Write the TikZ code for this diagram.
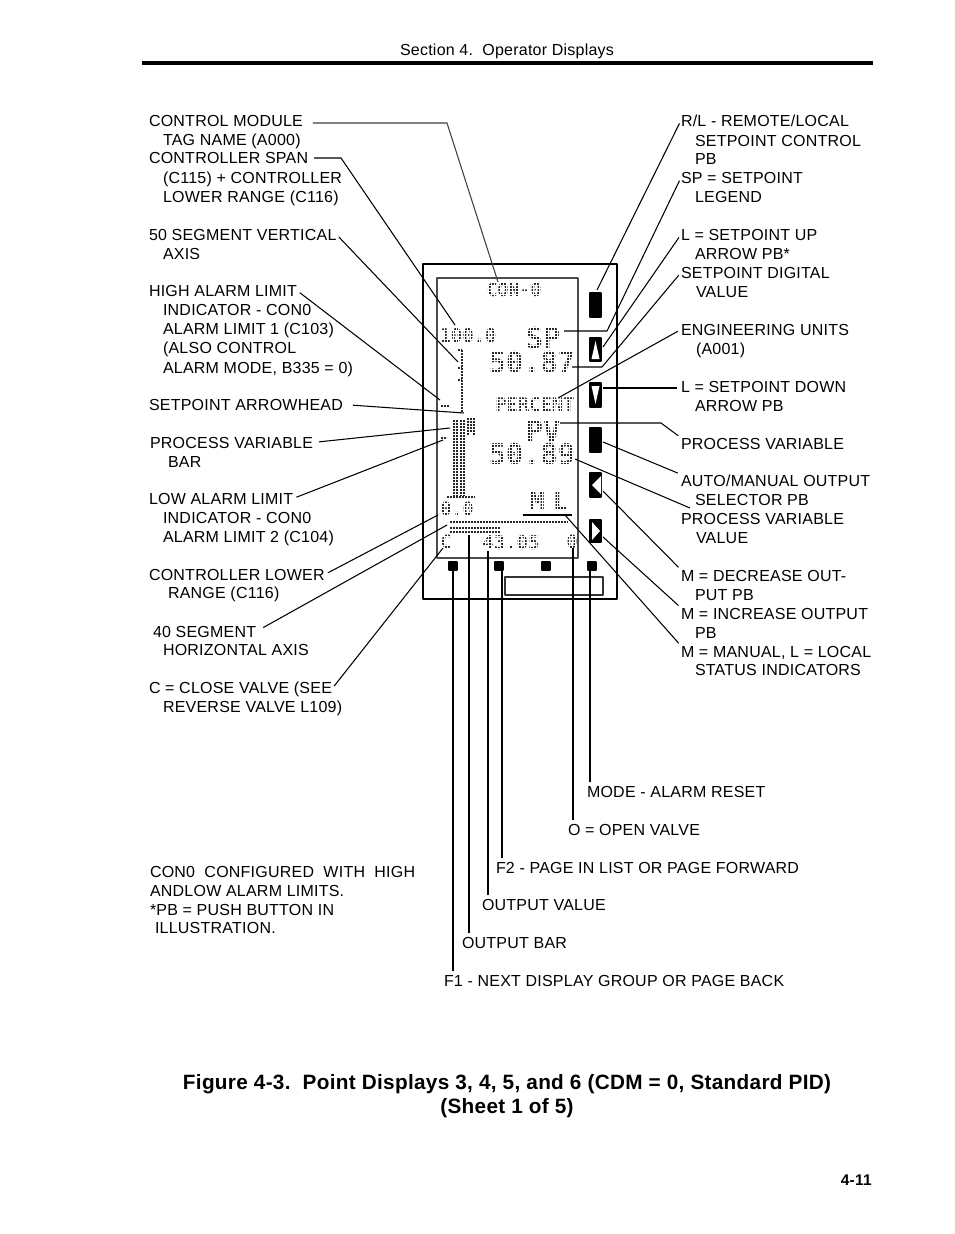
\documentclass[tikz,border=0pt]{standalone}
\usepackage{fontspec}
\setmainfont[LetterSpace=1.5]{Liberation Sans}
\newfontfamily\lcdfont{DejaVu Sans Mono}
\tikzset{
	lbl/.style={anchor=base west, inner sep=0pt, outer sep=0pt, font=\fontsize{9.1}{11}\selectfont},
	leader/.style={line width=0.6pt, black, shorten <=2pt},
	lcd/.style={inner sep=0pt, outer sep=0pt, text=black!85},
	dotrow/.style={line width=0.045cm, dash pattern=on 0.035cm off 0.025cm, black!85},
	pbtn/.style={fill=black, draw=black, line width=0.6pt},
}
\begin{document}
\begin{tikzpicture}[x=0.02cm, y=-0.02cm, line join=round]
				\useasboundingbox (0,0) rectangle (954,1234);
				\fill[white] (0,0) rectangle (954,1234);
				% page head and foot
				\node[anchor=base, inner sep=0pt, font=\fontsize{9.1}{10}\selectfont] (head) at (507,55) {Section 4.\ \ Operator Displays};
				\coordinate (ruleL) at (142,63);
				\coordinate (ruleR) at (873,63);
				\draw[line width=1.9pt] (ruleL) -- (ruleR);
				\node[anchor=base, inner sep=0pt, font=\bfseries\fontsize{11.8}{14}\selectfont] (capA) at (507,1089) {Figure 4-3.\ \ Point Displays 3, 4, 5, and 6 (CDM = 0, Standard PID)};
				\node[anchor=base, inner sep=0pt, font=\bfseries\fontsize{11.8}{14}\selectfont] (capB) at (507,1113) {(Sheet 1 of 5)};
				\node[anchor=base east, inner sep=0pt, font=\bfseries\fontsize{8.8}{10}\selectfont] (folio) at (872,1185) {4-11};
				% instrument faceplate
				\draw[line width=0.9pt] (423,264) rectangle (617,599);
				\draw[line width=0.9pt, black!70] (437,278) rectangle (578,558);
				\draw[line width=0.9pt, black!80] (505,577) rectangle (603,595);
				% LCD texts
				\node[lcd, font=\lcdfont\bfseries\fontsize{10.4}{12}\selectfont] (lcdTag) at (514,290) {CON-0};
				\node[lcd, font=\lcdfont\bfseries\fontsize{10.8}{12}\selectfont] (lcdHigh) at (468,336) {100.0};
				\node[lcd, font=\lcdfont\bfseries\fontsize{16.3}{18}\selectfont] (lcdSP) at (543,338) {SP};
				\node[lcd, font=\lcdfont\bfseries\fontsize{16.3}{18}\selectfont] (lcdSPval) at (532,362) {50.87};
				\node[lcd, font=\lcdfont\bfseries\fontsize{10.7}{12}\selectfont] (lcdUnits) at (535,405) {PERCENT};
				\node[lcd, font=\lcdfont\bfseries\fontsize{16.3}{18}\selectfont] (lcdPV) at (543,431) {PV};
				\node[lcd, font=\lcdfont\bfseries\fontsize{16.3}{18}\selectfont] (lcdPVval) at (532,454) {50.89};
				\node[lcd, font=\lcdfont\bfseries\fontsize{10.4}{12}\selectfont] (lcdLow) at (457,509) {0.0};
				\node[lcd, font=\lcdfont\bfseries\fontsize{14.5}{18}\selectfont] (lcdMode) at (549,501) {M\hspace{4.5pt}L};
				\node[lcd, font=\lcdfont\bfseries\fontsize{10.4}{12}\selectfont] (lcdC) at (446,542) {C};
				\node[lcd, font=\lcdfont\bfseries\fontsize{10.8}{12}\selectfont] (lcdOut) at (511,543) {43.05};
				\node[lcd, font=\lcdfont\bfseries\fontsize{10.4}{12}\selectfont] (lcdO) at (572,542) {0};
				% grid of white lines breaks the LCD strokes into dots
				\draw[white, line width=0.45pt] (439,280) grid[step=0.06cm] (576,556);
				% bars and axes
				\draw[dotrow] (462,350) -- (462,412);
				\draw[dotrow] (458,350) -- (462,350);
				\draw[dotrow] (458,368) -- (462,368);
				\draw[dotrow] (458,380) -- (462,380);
				\draw[dotrow] (441,406) -- (449,406);
				\draw[dotrow] (454,420) -- (454,496);
				\draw[dotrow] (457,420) -- (457,496);
				\draw[dotrow] (461,420) -- (461,496);
				\draw[dotrow] (464,420) -- (464,496);
				\draw[dotrow] (468,418) -- (468,436);
				\draw[dotrow] (471,418) -- (471,432);
				\draw[dotrow] (474,418) -- (474,436);
				\draw[dotrow] (447,497) -- (475,497);
				\draw[dotrow] (441,438) -- (447,438);
				\draw[dotrow] (450,522) -- (567,522);
				\draw[dotrow] (450,528) -- (500,528);
				\draw[dotrow] (450,532) -- (500,532);
				% push buttons
				\fill[pbtn] (590,293) rectangle (601,317);
				\fill[pbtn] (590,338) rectangle (601,361);
				\fill[white] (595.5,341) -- (591.5,359) -- (599.5,359) -- cycle;
				\fill[pbtn] (590,383) rectangle (601,407);
				\fill[white] (591.5,386) -- (599.5,386) -- (595.5,404) -- cycle;
				\fill[pbtn] (590,428) rectangle (601,452);
				\fill[pbtn] (590,473) rectangle (601,497);
				\fill[white] (592,485) -- (601,476) -- (601,494) -- cycle;
				\fill[pbtn] (590,520) rectangle (601,542);
				\fill[white] (592,522) -- (592,540) -- (600,531) -- cycle;
				\fill[pbtn] (449,562) rectangle (457,570);
				\fill[pbtn] (495,562) rectangle (503,570);
				\fill[pbtn] (542,562) rectangle (550,570);
				\fill[pbtn] (588,562) rectangle (596,570);
				% left labels
				\node[lbl] (modA) at (149,126) {CONTROL MODULE};
				\node[lbl] (modB) at (163,145) {TAG NAME (A000)};
				\node[lbl] (spanA) at (149,163) {CONTROLLER SPAN};
				\node[lbl] (spanB) at (163,183) {(C115) + CONTROLLER};
				\node[lbl] (spanC) at (163,202) {LOWER RANGE (C116)};
				\node[lbl] (vertA) at (149,240) {50 SEGMENT VERTICAL};
				\node[lbl] (vertB) at (163,259) {AXIS};
				\node[lbl] (highA) at (149,296) {HIGH ALARM LIMIT};
				\node[lbl] (highB) at (163,315) {INDICATOR - CON0};
				\node[lbl] (highC) at (163,334) {ALARM LIMIT 1 (C103)};
				\node[lbl] (highD) at (163,353) {(ALSO CONTROL};
				\node[lbl] (highE) at (163,373) {ALARM MODE, B335 = 0)};
				\node[lbl] (arrowhead) at (149,410) {SETPOINT ARROWHEAD};
				\node[lbl] (barA) at (150,448) {PROCESS VARIABLE};
				\node[lbl] (barB) at (168,467) {BAR};
				\node[lbl] (lowA) at (149,504) {LOW ALARM LIMIT};
				\node[lbl] (lowB) at (163,523) {INDICATOR - CON0};
				\node[lbl] (lowC) at (163,542) {ALARM LIMIT 2 (C104)};
				\node[lbl] (lowerA) at (149,580) {CONTROLLER LOWER};
				\node[lbl] (lowerB) at (168,598) {RANGE (C116)};
				\node[lbl] (horA) at (153,637) {40 SEGMENT};
				\node[lbl] (horB) at (163,655) {HORIZONTAL AXIS};
				\node[lbl] (closeA) at (149,693) {C = CLOSE VALVE (SEE};
				\node[lbl] (closeB) at (163,712) {REVERSE VALVE L109)};
				\node[lbl] (noteA) at (150,877) {CON0\ \ CONFIGURED\ \ WITH\ \ HIGH};
				\node[lbl] (noteB) at (150,896) {ANDLOW ALARM LIMITS.};
				\node[lbl] (noteC) at (150,915) {*PB = PUSH BUTTON IN};
				\node[lbl] (noteD) at (155,933) {ILLUSTRATION.};
				% right labels
				\node[lbl] (rlA) at (681,126) {R/L - REMOTE/LOCAL};
				\node[lbl] (rlB) at (695,146) {SETPOINT CONTROL};
				\node[lbl] (rlC) at (695,164) {PB};
				\node[lbl] (spA) at (681,183) {SP = SETPOINT};
				\node[lbl] (spB) at (695,202) {LEGEND};
				\node[lbl] (upA) at (681,240) {L = SETPOINT UP};
				\node[lbl] (upB) at (695,259) {ARROW PB*};
				\node[lbl] (digA) at (681,278) {SETPOINT DIGITAL};
				\node[lbl] (digB) at (696,297) {VALUE};
				\node[lbl] (engA) at (681,335) {ENGINEERING UNITS};
				\node[lbl] (engB) at (696,354) {(A001)};
				\node[lbl] (downA) at (681,392) {L = SETPOINT DOWN};
				\node[lbl] (downB) at (695,411) {ARROW PB};
				\node[lbl] (pvA) at (681,449) {PROCESS VARIABLE};
				\node[lbl] (autoA) at (681,486) {AUTO/MANUAL OUTPUT};
				\node[lbl] (autoB) at (695,505) {SELECTOR PB};
				\node[lbl] (pvvalA) at (681,524) {PROCESS VARIABLE};
				\node[lbl] (pvvalB) at (696,543) {VALUE};
				\node[lbl] (decA) at (681,581) {M = DECREASE OUT-};
				\node[lbl] (decB) at (695,600) {PUT PB};
				\node[lbl] (incA) at (681,619) {M = INCREASE OUTPUT};
				\node[lbl] (incB) at (695,638) {PB};
				\node[lbl] (manA) at (681,657) {M = MANUAL, L = LOCAL};
				\node[lbl] (manB) at (695,675) {STATUS INDICATORS};
				% bottom labels
				\node[lbl] (resetL) at (587,797) {MODE - ALARM RESET};
				\node[lbl] (openL) at (568,835) {O = OPEN VALVE};
				\node[lbl] (ftwoL) at (496,873) {F2 - PAGE IN LIST OR PAGE FORWARD};
				\node[lbl] (outvalL) at (482,910) {OUTPUT VALUE};
				\node[lbl] (outbarL) at (462,948) {OUTPUT BAR};
				\node[lbl] (foneL) at (444,986) {F1 - NEXT DISPLAY GROUP OR PAGE BACK};
				% connector points on the display
				\coordinate (modK) at (447,123);
				\coordinate (modE) at (498,282);
				\coordinate (spanK) at (341,158);
				\coordinate (spanE) at (455,325);
				\coordinate (vertE) at (458,362);
				\coordinate (highE) at (440,400);
				\coordinate (arrowE) at (464,413);
				\coordinate (barE) at (450,428);
				\coordinate (lowE) at (443,440);
				\coordinate (lowerE) at (438,515);
				\coordinate (horE) at (447,525);
				\coordinate (closeE) at (443,548);
				\coordinate (rlE) at (597,290);
				\coordinate (spK) at (607,331);
				\coordinate (spE) at (564,331);
				\coordinate (upE) at (603,347);
				\coordinate (digK) at (602,367);
				\coordinate (digE) at (572,367);
				\coordinate (engE) at (558,398);
				\coordinate (downE) at (603,388);
				\coordinate (pvK) at (661,423);
				\coordinate (pvE) at (560,423);
				\coordinate (autoE) at (603,442);
				\coordinate (pvvalK) at (690,508);
				\coordinate (pvvalE) at (575,459);
				\coordinate (decE) at (603,491);
				\coordinate (incE) at (603,537);
				\coordinate (manK) at (565,515);
				\coordinate (manL) at (523,515);
				\coordinate (manR) at (572,515);
				\coordinate (oneE) at (453,570);
				\coordinate (obarE) at (469,535);
				\coordinate (ovalE) at (488,551);
				\coordinate (twoE) at (502,570);
				\coordinate (openE) at (573,548);
				\coordinate (resetE) at (590,570);
				\draw[leader, black!75, shorten <=0.2cm] (modA.east |- modK) -- (modK) -- (modE);
				\draw[leader, shorten <=0.12cm] (spanA.east |- spanK) -- (spanK) -- (spanE);
				\draw[leader] (vertA.east) -- (vertE);
				\draw[leader] (highA.east) -- (highE);
				\draw[leader, shorten <=0.2cm] (arrowhead.east) -- (arrowE);
				\draw[leader, shorten <=0.12cm] (barA.east) -- (barE);
				\draw[leader] (lowA.east) -- (lowE);
				\draw[leader] (lowerA.east) -- (lowerE);
				\draw[leader, shorten <=0.16cm] (horA.east) -- (horE);
				\draw[leader] (closeA.east) -- (closeE);
				\draw[leader] (rlA.west) -- (rlE);
				\draw[leader] (spA.west) -- (spK) -- (spE);
				\draw[leader] (upA.west) -- (upE);
				\draw[leader] (digA.west) -- (digK) -- (digE);
				\draw[leader] (engA.west) -- (engE);
				\draw[leader] (downA.west |- downE) -- (downE);
				\draw[leader] (pvA.north west) -- (pvK) -- (pvE);
				\draw[leader] (autoA.north west) -- (autoE);
				\draw[leader, shorten <=0pt] (pvvalK) -- (pvvalE);
				\draw[leader] (decA.north west) -- (decE);
				\draw[leader] (incA.north west) -- (incE);
				\draw[leader] (manA.north west) -- (manK);
				\draw[line width=0.6pt] (manL) -- (manR);
				\draw[leader] (foneL.north west -| oneE) -- (oneE);
				\draw[leader] (outbarL.north west -| obarE) -- (obarE);
				\draw[leader] (outvalL.north west -| ovalE) -- (ovalE);
				\draw[leader] (ftwoL.north west -| twoE) -- (twoE);
				\draw[leader] (openL.north west -| openE) -- (openE);
				\draw[leader] (resetL.north west -| resetE) -- (resetE);
			\end{tikzpicture}
\end{document}
